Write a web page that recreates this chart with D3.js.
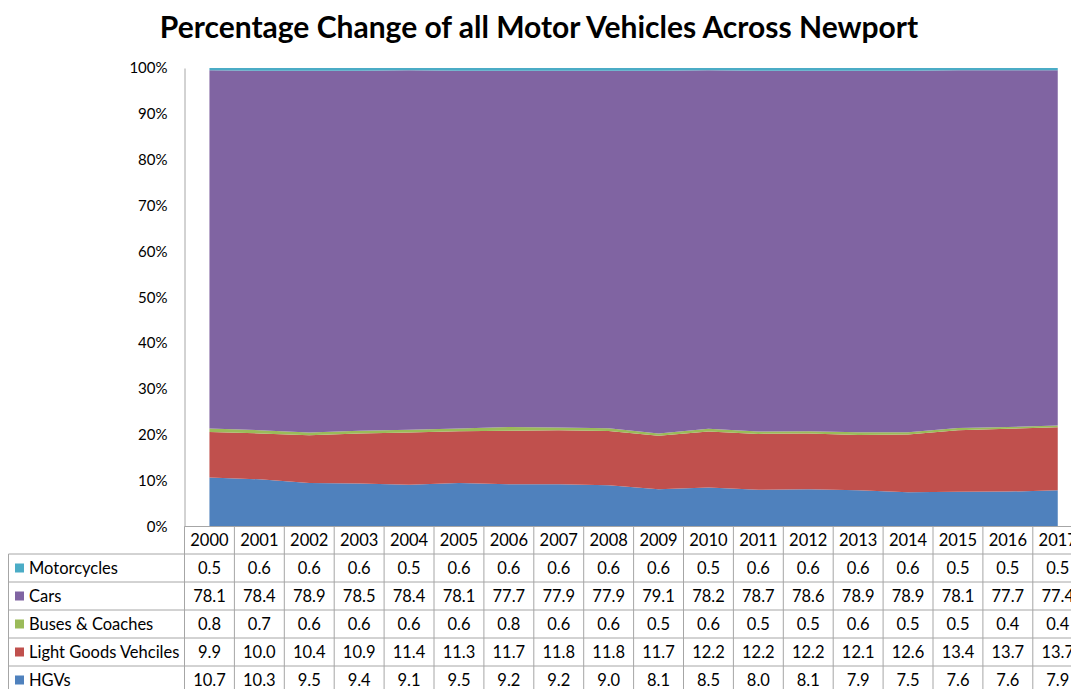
<!DOCTYPE html>
<html>
<head>
<meta charset="utf-8">
<script src="https://cdn.jsdelivr.net/npm/d3@7"></script>
<style>
  body { margin: 0; background: #fff; }
  text { font-family: Lato, "Open Sans", sans-serif; fill: #000; }
</style>
</head>
<body>
<svg></svg>
<script>
const years = ["2000","2001","2002","2003","2004","2005","2006","2007","2008",
               "2009","2010","2011","2012","2013","2014","2015","2016","2017"];

const hgvs        = [10.7,10.3,9.5,9.4,9.1,9.5,9.2,9.2,9.0,8.1,8.5,8.0,8.1,7.9,7.5,7.6,7.6,7.9];
const lightGoods  = [9.9,10.0,10.4,10.9,11.4,11.3,11.7,11.8,11.8,11.7,12.2,12.2,12.2,12.1,12.6,13.4,13.7,13.7];
const buses       = [0.8,0.7,0.6,0.6,0.6,0.6,0.8,0.6,0.6,0.5,0.6,0.5,0.5,0.6,0.5,0.5,0.4,0.4];
const cars        = [78.1,78.4,78.9,78.5,78.4,78.1,77.7,77.9,77.9,79.1,78.2,78.7,78.6,78.9,78.9,78.1,77.7,77.4];
const motorcycles = [0.5,0.6,0.6,0.6,0.5,0.6,0.6,0.6,0.6,0.6,0.5,0.6,0.6,0.6,0.6,0.5,0.5,0.5];

const yTicks = [0,10,20,30,40,50,60,70,80,90,100];

// stacking order, bottom to top
const series = [
  { key: "HGVs", name: "HGVs", values: hgvs, color: "#4F81BD" },
  { key: "LGV", name: "Light Goods Vehciles", values: lightGoods, color: "#C0504D" },
  { key: "Bus", name: "Buses & Coaches", values: buses, color: "#9BBB59" },
  { key: "Cars", name: "Cars", values: cars, color: "#8064A2" },
  { key: "Moto", name: "Motorcycles", values: motorcycles, color: "#4BACC6" }
];
// table row order, top to bottom
const tableOrder = ["Moto","Cars","Bus","LGV","HGVs"];

const svgWidth = 1071, svgHeight = 689;
const svg = d3.select("svg").attr("width", svgWidth).attr("height", svgHeight);

const plotLeft = 184.5, colW = 49.9;
const plotTop = 68, plotBottom = 526.5;
const rowH = 28, headH = 27.5, tableLeft = 8.5;

const x = d3.scaleBand().domain(years).range([plotLeft, plotLeft + colW * years.length]);
const y = d3.scaleLinear().domain([0, 100]).range([plotBottom, plotTop]);
const cx = d => x(d) + x.bandwidth() / 2;

// rows for the stack
const rows = years.map(function(yr, i) {
  const r = { year: yr };
  series.forEach(function(s) { r[s.key] = s.values[i]; });
  return r;
});
const stack = d3.stack().keys(series.map(s => s.key)).offset(d3.stackOffsetExpand);
const layers = stack(rows);

const area = d3.area()
    .x(d => cx(d.data.year))
    .y0(d => y(d[0] * 100))
    .y1(d => y(d[1] * 100));

svg.append("g").selectAll("path")
    .data(layers)
    .enter()
    .append("path")
    .attr("fill", (d, i) => series[i].color)
    .attr("d", area);

// title
svg.append("text")
    .attr("x", 539)
    .attr("y", 38)
    .attr("text-anchor", "middle")
    .style("font-size", "30px")
    .style("font-weight", "bold")
    .text("Percentage Change of all Motor Vehicles Across Newport");

// y axis
const yAxis = svg.append("g")
    .attr("transform", "translate(" + plotLeft + ",0)")
    .call(d3.axisLeft(y).tickValues(yTicks).tickSize(0).tickPadding(17)
      .tickFormat(d => d + "%"));
yAxis.select(".domain").attr("stroke", "#A6A6A6");
yAxis.selectAll("text").style("font-size", "15px").style("font-family", "Lato, sans-serif");

// table
const grid = "#A6A6A6";
const tbl = svg.append("g");
const tableRight = plotLeft + colW * years.length;
const tableBottom = plotBottom + headH + rowH * tableOrder.length;
const fs = "16.5px";

// horizontal lines
tbl.append("line").attr("x1", plotLeft).attr("x2", tableRight)
    .attr("y1", plotBottom).attr("y2", plotBottom).attr("stroke", grid);
for (let r = 0; r <= tableOrder.length; r++) {
  const yy = plotBottom + headH + r * rowH;
  tbl.append("line").attr("x1", tableLeft).attr("x2", tableRight)
      .attr("y1", yy).attr("y2", yy).attr("stroke", grid);
}
// vertical lines
tbl.append("line").attr("x1", tableLeft).attr("x2", tableLeft)
    .attr("y1", plotBottom + headH).attr("y2", tableBottom).attr("stroke", grid);
for (let c = 0; c <= years.length; c++) {
  const xx = plotLeft + c * colW;
  tbl.append("line").attr("x1", xx).attr("x2", xx)
      .attr("y1", plotBottom).attr("y2", tableBottom).attr("stroke", grid);
}

// header years
tbl.selectAll("text.yr")
    .data(years)
    .enter()
    .append("text")
    .attr("class", "yr")
    .attr("x", d => cx(d))
    .attr("y", plotBottom + headH / 2 + 6)
    .attr("text-anchor", "middle")
    .style("font-size", fs)
    .text(d => d);

tableOrder.forEach(function(k, r) {
  const s = series.find(v => v.key === k);
  const rowMid = plotBottom + headH + r * rowH + rowH / 2;
  tbl.append("rect")
      .attr("x", 15).attr("y", rowMid - 4.5)
      .attr("width", 9).attr("height", 9)
      .attr("fill", s.color);
  tbl.append("text")
      .attr("x", 29).attr("y", rowMid + 6)
      .style("font-size", fs)
      .text(s.name);
  tbl.selectAll("text.v" + k)
      .data(s.values)
      .enter()
      .append("text")
      .attr("x", (d, i) => cx(years[i]))
      .attr("y", rowMid + 6)
      .attr("text-anchor", "middle")
      .style("font-size", fs)
      .text(d => d.toFixed(1));
});
</script>
</body>
</html>
